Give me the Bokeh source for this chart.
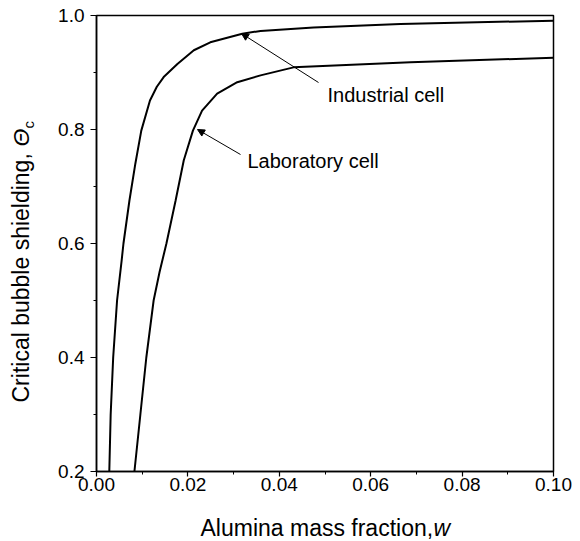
import math
from bokeh.plotting import figure
from bokeh.layouts import row, column
from bokeh.models import Label, Arrow, NormalHead, FixedTicker, Range1d
from bokeh.embed import file_html
from bokeh.resources import INLINE

# ---- data ----
industrial_w = [0.0028, 0.0031, 0.00365, 0.0045, 0.0055, 0.0059, 0.0072, 0.0085, 0.0098,
                0.0117, 0.0132, 0.0147, 0.0177, 0.0213, 0.0249, 0.0319, 0.0359, 0.0475,
                0.0665, 0.100]
industrial_theta = [0.20, 0.30, 0.40, 0.50, 0.57, 0.60, 0.675, 0.74, 0.798,
                    0.851, 0.875, 0.892, 0.915, 0.939, 0.953, 0.968, 0.973, 0.979,
                    0.985, 0.991]

lab_w = [0.0083, 0.0096, 0.0109, 0.0125, 0.0138, 0.0153, 0.0173, 0.0191, 0.0211,
         0.0231, 0.0264, 0.0308, 0.0359, 0.0431, 0.0687, 0.100]
lab_theta = [0.20, 0.30, 0.40, 0.50, 0.55, 0.60, 0.675, 0.746, 0.798,
             0.833, 0.863, 0.883, 0.895, 0.909, 0.918, 0.926]

x_ticks = [0.00, 0.02, 0.04, 0.06, 0.08, 0.10]
x_tick_labels = ["0.00", "0.02", "0.04", "0.06", "0.08", "0.10"]
x_minor = [0.01, 0.03, 0.05, 0.07, 0.09]
y_ticks = [0.2, 0.4, 0.6, 0.8, 1.0]
y_tick_labels = ["0.2", "0.4", "0.6", "0.8", "1.0"]
y_minor = [0.3, 0.5, 0.7, 0.9]

series_names = ["Industrial cell", "Laboratory cell"]
x_title = "Alumina mass fraction,"
x_title_var = "w"
y_title = "Critical bubble shielding,"
y_title_var = "\u0398"
y_title_sub = "c"

# ---- layout (page pixels) ----
X0, X1 = 0.0, 0.10
Y0, Y1 = 0.2, 1.0
PAGE_W, PAGE_H = 580, 541
FRAME_L, FRAME_T, FRAME_R, FRAME_B = 96, 15, 553, 471
LEFT_W = 48                 # strip for the y title
MAIN_H = 503                # main figure height; strip below holds the x title
BOTTOM_H = PAGE_H - MAIN_H
MAIN_W = PAGE_W - LEFT_W


def px_x(px):
    return X0 + (px - FRAME_L) * (X1 - X0) / (FRAME_R - FRAME_L)


def px_y(py):
    return Y0 + (FRAME_B - py) * (Y1 - Y0) / (FRAME_B - FRAME_T)


FONT = "Liberation Sans"

p = figure(width=MAIN_W, height=MAIN_H, output_backend="svg", toolbar_location=None,
           title=None, x_range=Range1d(X0, X1), y_range=Range1d(Y0, Y1),
           min_border_left=FRAME_L - LEFT_W, min_border_right=PAGE_W - FRAME_R,
           min_border_top=FRAME_T, min_border_bottom=MAIN_H - FRAME_B)
p.background_fill_color = "white"
p.border_fill_color = "white"
p.outline_line_color = "black"
p.outline_line_width = 1.5
p.grid.visible = False

p.line(industrial_w, industrial_theta, line_color="black", line_width=2)
p.line(lab_w, lab_theta, line_color="black", line_width=2)

for ax in (p.xaxis[0], p.yaxis[0]):
    ax.axis_line_color = "black"
    ax.axis_line_width = 1.5
    ax.major_tick_line_color = "black"
    ax.minor_tick_line_color = "black"
    ax.major_tick_line_width = 1.2
    ax.minor_tick_line_width = 1
    ax.major_tick_in = 0
    ax.minor_tick_in = 0
    ax.major_tick_out = 6
    ax.minor_tick_out = 3
    ax.major_label_text_font = FONT
    ax.major_label_text_font_size = "19px"
    ax.major_label_text_color = "black"

p.xaxis[0].ticker = FixedTicker(ticks=x_ticks, minor_ticks=x_minor)
p.xaxis[0].major_label_overrides = dict(zip(x_ticks, x_tick_labels))
p.xaxis[0].major_tick_out = 5
p.xaxis[0].major_label_standoff = 1
p.yaxis[0].ticker = FixedTicker(ticks=y_ticks, minor_ticks=y_minor)
p.yaxis[0].major_label_overrides = dict(zip(y_ticks, y_tick_labels))
p.yaxis[0].major_label_standoff = 6

# annotations inside the frame (y given as text centre line)
p.add_layout(Label(x=px_x(327), y=px_y(94), text=series_names[0], text_font=FONT,
                   text_font_size="20px", text_baseline="middle", text_color="black"))
p.add_layout(Label(x=px_x(247), y=px_y(160), text=series_names[1], text_font=FONT,
                   text_font_size="20px", text_baseline="middle", text_color="black"))

p.add_layout(Arrow(end=NormalHead(size=7, fill_color="black", line_color="black"),
                   x_start=px_x(318), y_start=px_y(82), x_end=px_x(241), y_end=px_y(33),
                   line_color="black", line_width=1))
p.add_layout(Arrow(end=NormalHead(size=7, fill_color="black", line_color="black"),
                   x_start=px_x(240), y_start=px_y(154), x_end=px_x(197), y_end=px_y(129),
                   line_color="black", line_width=1))


def strip(w, h):
    f = figure(width=w, height=h, output_backend="svg", toolbar_location=None,
               title=None, x_range=Range1d(0, w), y_range=Range1d(0, h),
               x_axis_location=None, y_axis_location=None, min_border=0)
    f.outline_line_color = None
    f.background_fill_color = "white"
    f.border_fill_color = "white"
    f.grid.visible = False
    try:
        f.frame_align = False
    except AttributeError:
        pass
    return f


# y title strip (coordinates = page pixels, y flipped)
ly = strip(LEFT_W, PAGE_H)
ly.add_layout(Label(x=20, y=PAGE_H - 402, text=y_title, angle=math.pi / 2,
                    text_font=FONT, text_font_size="23px", text_align="left",
                    text_baseline="middle", text_color="black"))
ly.add_layout(Label(x=20, y=PAGE_H - 146, text=y_title_var, angle=math.pi / 2,
                    text_font=FONT, text_font_style="italic", text_font_size="23px",
                    text_align="left", text_baseline="middle", text_color="black"))
ly.add_layout(Label(x=28, y=PAGE_H - 128, text=y_title_sub, angle=math.pi / 2,
                    text_font=FONT, text_font_size="15px", text_align="left",
                    text_baseline="middle", text_color="black"))

# x title strip
lx = strip(MAIN_W, BOTTOM_H)
lx.add_layout(Label(x=200 - LEFT_W, y=PAGE_H - 527, text=x_title, text_font=FONT,
                    text_font_size="23px", text_align="left", text_baseline="middle",
                    text_color="black"))
lx.add_layout(Label(x=433 - LEFT_W, y=PAGE_H - 527, text=x_title_var, text_font=FONT,
                    text_font_style="italic", text_font_size="23px", text_align="left",
                    text_baseline="middle", text_color="black"))

layout = row(ly, column(p, lx))
open("out.html", "w").write(file_html(layout, INLINE))
